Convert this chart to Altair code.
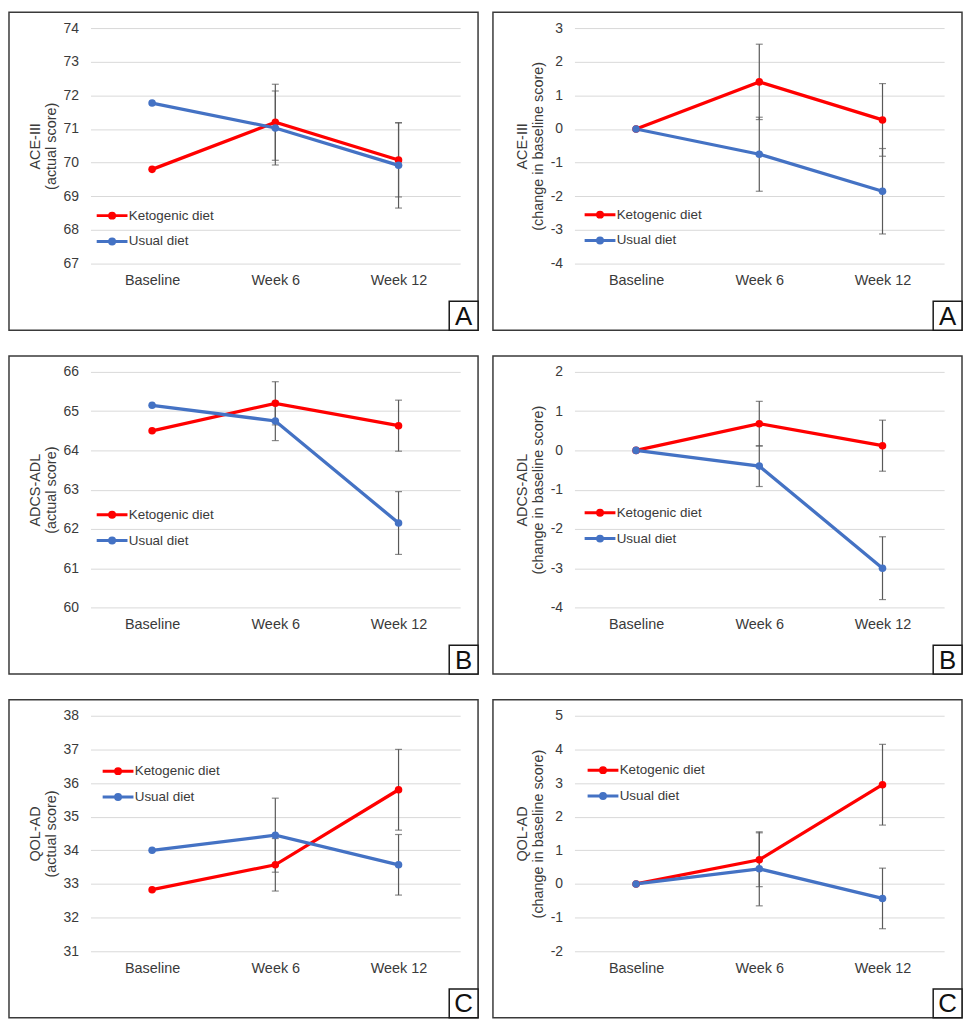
import altair as alt
import pandas as pd

categories = ["Baseline", "Week 6", "Week 12"]
series_names = ["Ketogenic diet", "Usual diet"]
series_colors = ["#ff0000", "#4472c4"]

# Panel A left: ACE-III actual score
ace_actual_keto = [69.8, 71.2, 70.08]
ace_actual_keto_err = [None, 1.13, 1.1]
ace_actual_usual = [71.77, 71.03, 69.92]
ace_actual_usual_err = [None, 1.1, 1.27]

# Panel A right: ACE-III change from baseline
ace_change_keto = [0.0, 1.4, 0.27]
ace_change_keto_err = [None, 1.12, 1.08]
ace_change_usual = [0.0, -0.75, -1.85]
ace_change_usual_err = [None, 1.1, 1.27]

# Panel B left: ADCS-ADL actual score
adl_actual_keto = [64.5, 65.2, 64.63]
adl_actual_keto_err = [None, 0.55, 0.65]
adl_actual_usual = [65.15, 64.75, 62.15]
adl_actual_usual_err = [None, 0.5, 0.8]

# Panel B right: ADCS-ADL change from baseline
adl_change_keto = [0.0, 0.68, 0.12]
adl_change_keto_err = [None, 0.57, 0.65]
adl_change_usual = [0.0, -0.4, -3.0]
adl_change_usual_err = [None, 0.52, 0.8]

# Panel C left: QOL-AD actual score
qol_actual_keto = [32.83, 33.57, 35.8]
qol_actual_keto_err = [None, 0.78, 1.2]
qol_actual_usual = [34.0, 34.45, 33.57]
qol_actual_usual_err = [None, 1.1, 0.9]

# Panel C right: QOL-AD change from baseline
qol_change_keto = [0.0, 0.72, 2.95]
qol_change_keto_err = [None, 0.8, 1.2]
qol_change_usual = [0.0, 0.45, -0.43]
qol_change_usual_err = [None, 1.1, 0.9]

panel_titles = [
    ["ACE-III", "(actual score)"],
    ["ACE-III", "(change in baseline score)"],
    ["ADCS-ADL", "(actual score)"],
    ["ADCS-ADL", "(change in baseline score)"],
    ["QOL-AD", "(actual score)"],
    ["QOL-AD", "(change in baseline score)"],
]
panel_letters = ["A", "A", "B", "B", "C", "C"]
panel_domains = [[67, 74], [-4, 3], [60, 66], [-4, 2], [31, 38], [-2, 5]]

panel_series = [
    (ace_actual_keto, ace_actual_keto_err, ace_actual_usual, ace_actual_usual_err),
    (ace_change_keto, ace_change_keto_err, ace_change_usual, ace_change_usual_err),
    (adl_actual_keto, adl_actual_keto_err, adl_actual_usual, adl_actual_usual_err),
    (adl_change_keto, adl_change_keto_err, adl_change_usual, adl_change_usual_err),
    (qol_actual_keto, qol_actual_keto_err, qol_actual_usual, qol_actual_usual_err),
    (qol_change_keto, qol_change_keto_err, qol_change_usual, qol_change_usual_err),
]

# layout (pixels, relative to each plot area)
W, H = 372, 237
legend_pos = [(15, 182), (19, 181), (15, 137), (19, 135), (21, 49), (22, 48)]
FONT = "Liberation Sans"
TXT = "#3a3a3a"
SYMBOL = ("M-3.1,0L3.1,0"
          "M-0.5,0A0.5,0.5,0,1,0,0.5,0A0.5,0.5,0,1,0,-0.5,0"
          "M-0.2,0A0.2,0.2,0,1,0,0.2,0A0.2,0.2,0,1,0,-0.2,0")


def build_df(keto, keto_err, usual, usual_err):
    rows = []
    for name, vals, errs in ((series_names[0], keto, keto_err),
                             (series_names[1], usual, usual_err)):
        for c, v, e in zip(categories, vals, errs):
            rows.append({
                "time": c, "series": name, "value": v,
                "lo": (v - e) if e is not None else None,
                "hi": (v + e) if e is not None else None,
            })
    return pd.DataFrame(rows)


def panel(i):
    df = build_df(*panel_series[i])
    err = df.dropna(subset=["lo"])
    dom = panel_domains[i]
    lx, ly = legend_pos[i]

    xaxis = alt.Axis(title=None, labelAngle=0, ticks=False, domain=False,
                     grid=False, labelPadding=10, labelFontSize=14.5,
                     labelFont=FONT, labelColor=TXT)
    xscale = alt.Scale(type="point", padding=0.5, domain=categories)
    xenc = alt.X("time:N", sort=categories, scale=xscale, axis=xaxis)
    yscale = alt.Scale(domain=dom, nice=False, zero=False)
    yaxis = alt.Axis(title=panel_titles[i], values=list(range(dom[0], dom[1] + 1)),
                     labelExpr="'' + datum.value",
                     grid=True, gridColor="#d9d9d9", gridWidth=1,
                     domain=False, ticks=False, labelPadding=12,
                     labelFontSize=14, labelFont=FONT, labelColor=TXT,
                     titleFont=FONT, titleFontSize=14.5, titleFontWeight="normal",
                     titleColor=TXT, titlePadding=5, titleLineHeight=16)
    cscale = alt.Scale(domain=series_names, range=series_colors)

    border = alt.Chart(alt.Data(values=[{}])).mark_rect(
        fill=None, stroke="#3a3a3a", strokeWidth=1.5
    ).encode(x=alt.value(-82), x2=alt.value(390), y=alt.value(-16), y2=alt.value(304))

    rule = alt.Chart(err).mark_rule(color="#595959", strokeWidth=1.2).encode(
        x=xenc, y=alt.Y("lo:Q", scale=yscale, axis=yaxis), y2="hi:Q")
    cap_lo = alt.Chart(err).mark_tick(color="#595959", size=7, thickness=1.2,
                                      orient="horizontal").encode(
        x=xenc, y=alt.Y("lo:Q", scale=yscale, axis=yaxis))
    cap_hi = alt.Chart(err).mark_tick(color="#595959", size=7, thickness=1.2,
                                      orient="horizontal").encode(
        x=xenc, y=alt.Y("hi:Q", scale=yscale, axis=yaxis))

    line = alt.Chart(df).mark_line(strokeWidth=3.3).encode(
        x=xenc, y=alt.Y("value:Q", scale=yscale, axis=yaxis),
        color=alt.Color("series:N", scale=cscale,
                        legend=alt.Legend(orient="none", legendX=lx, legendY=ly,
                                          title=None, symbolType=SYMBOL, symbolSize=100,
                                          symbolStrokeWidth=3, labelFontSize=13.5,
                                          labelFont=FONT, labelColor=TXT,
                                          labelOffset=10, rowPadding=8, padding=0)),
    )
    pts = alt.Chart(df).mark_point(filled=True, size=58, opacity=1).encode(
        x=xenc, y=alt.Y("value:Q", scale=yscale, axis=yaxis),
        color=alt.Color("series:N", scale=cscale, legend=None))

    letter_df = pd.DataFrame({"letter": [panel_letters[i]]})
    lbox = alt.Chart(alt.Data(values=[{}])).mark_rect(
        fill="white", stroke="#1a1a1a", strokeWidth=1.5
    ).encode(x=alt.value(361), x2=alt.value(390), y=alt.value(275), y2=alt.value(304))
    ltext = alt.Chart(letter_df).mark_text(
        font=FONT, fontSize=26, color="#111111", align="center", baseline="middle"
    ).encode(text="letter:N", x=alt.value(375.5), y=alt.value(290.5))

    return alt.layer(border, rule, cap_lo, cap_hi, line, pts, lbox, ltext).resolve_scale(
        color="shared").properties(width=W, height=H)


rows = []
for r in range(3):
    rows.append(alt.hconcat(panel(2 * r), panel(2 * r + 1), spacing=13).resolve_scale(
        color="independent", y="independent").resolve_legend(color="independent"))

chart = alt.vconcat(*rows, spacing=24).resolve_scale(
    color="independent", y="independent").resolve_legend(color="independent").configure_view(
    stroke=None).properties(padding={"left": 0, "top": 0, "right": 0, "bottom": 0})

chart.save("out.html", embed_options={"renderer": "svg", "actions": False})
